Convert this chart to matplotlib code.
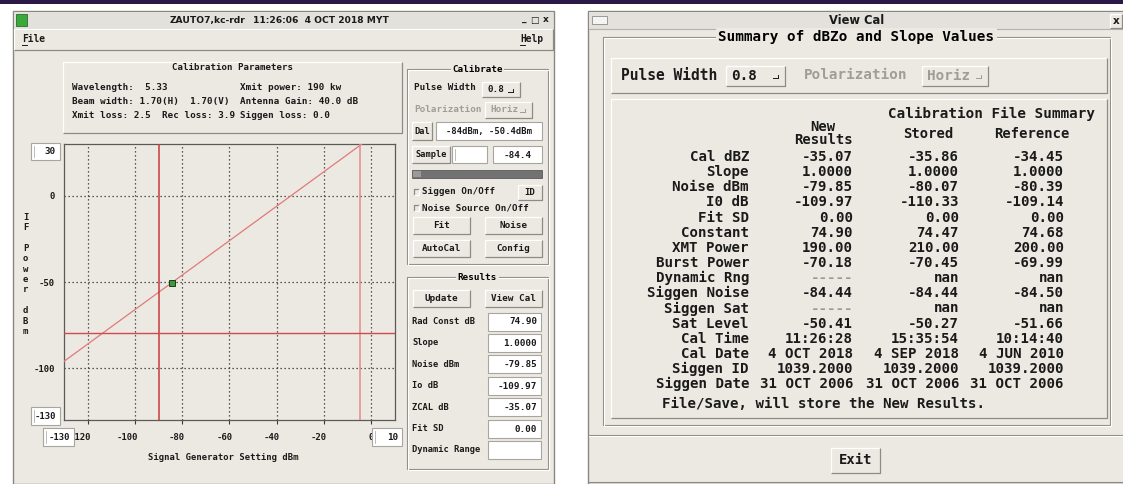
import matplotlib
matplotlib.use("Agg")
import matplotlib.pyplot as plt
import matplotlib.transforms as mtransforms
from matplotlib.patches import Rectangle

# calibration curve data
x_range = (-130, 10)
y_range = (-130, 30)
x_ticks = [-120, -100, -80, -60, -40, -20, 0]
y_ticks = [0, -50, -100]
sample_dbm = -84.4
sample_if = -50.4
fit_slope = 1.0
noise_dbm = -79.85
cal_limits = [-89.9, -4.6]

# calibration parameter block
param_left = ["Wavelength:  5.33", "Beam width: 1.70(H)  1.70(V)", "Xmit loss: 2.5  Rec loss: 3.9"]
param_right = ["Xmit power: 190 kw", "Antenna Gain: 40.0 dB", "Siggen loss: 0.0"]

# results panel
result_labels = ["Rad Const dB", "Slope", "Noise dBm", "Io dB", "ZCAL dB", "Fit SD", "Dynamic Range"]
result_values = ["74.90", "1.0000", "-79.85", "-109.97", "-35.07", "0.00", ""]

# summary table
row_labels = ["Cal dBZ", "Slope", "Noise dBm", "I0 dB", "Fit SD", "Constant", "XMT Power",
              "Burst Power", "Dynamic Rng", "Siggen Noise", "Siggen Sat", "Sat Level",
              "Cal Time", "Cal Date", "Siggen ID", "Siggen Date"]
new_results = ["-35.07", "1.0000", "-79.85", "-109.97", "0.00", "74.90", "190.00", "-70.18",
               "-----", "-84.44", "-----", "-50.41", "11:26:28", "4 OCT 2018", "1039.2000",
               "31 OCT 2006"]
stored = ["-35.86", "1.0000", "-80.07", "-110.33", "0.00", "74.47", "210.00", "-70.45",
          "nan", "-84.44", "nan", "-50.27", "15:35:54", "4 SEP 2018", "1039.2000",
          "31 OCT 2006"]
reference = ["-34.45", "1.0000", "-80.39", "-109.14", "0.00", "74.68", "200.00", "-69.99",
             "nan", "-84.50", "nan", "-51.66", "10:14:40", "4 JUN 2010", "1039.2000",
             "31 OCT 2006"]

BODY = "#ece9e2"
LIGHT = "#ffffff"
DARK = "#8e8b86"
GREY_TXT = "#a09d98"
MONO = "DejaVu Sans Mono"
SANS = "DejaVu Sans"
W, H = 1123, 484

fig = plt.figure(figsize=(W / 100, H / 100), dpi=100)
fig.patch.set_facecolor("white")

bg = fig.add_axes([0, 0, 1, 1], zorder=1)
bg.set_xlim(0, W)
bg.set_ylim(H, 0)
bg.axis("off")

fg = fig.add_axes([0, 0, 1, 1], zorder=3)
fg.set_xlim(0, W)
fg.set_ylim(H, 0)
fg.axis("off")
fg.patch.set_alpha(0)


def rect(ax, x, y, w, h, face, edge="none", lw=0.8):
    ax.add_patch(Rectangle((x, y), w, h, facecolor=face, edgecolor=edge, lw=lw))


def bevel(x, y, w, h, face=BODY, raised=True, ax=bg, lw=0.9):
    rect(ax, x, y, w, h, face)
    tl, br = (LIGHT, DARK) if raised else (DARK, LIGHT)
    ax.plot([x, x, x + w], [y + h, y, y], color=tl, lw=lw, solid_capstyle="butt")
    ax.plot([x, x + w, x + w], [y + h, y + h, y], color=br, lw=lw, solid_capstyle="butt")


def etched(x, y, w, h, title=None, size=6.7, ax=bg):
    for off, col in ((0, DARK), (1, LIGHT)):
        ax.add_patch(Rectangle((x + off, y + off), w, h, facecolor="none",
                               edgecolor=col, lw=0.8))
    if title:
        ax.text(x + w / 2, y, title, ha="center", va="center", fontsize=size,
                family=MONO, weight="bold",
                bbox=dict(boxstyle="square,pad=0.15", fc=BODY, ec="none"))


def label(x, y, s, size=6.7, ha="left", color="#1a1a1a", ax=bg, weight="bold", family=MONO):
    ax.text(x, y, s, ha=ha, va="center", fontsize=size, family=family,
            weight=weight, color=color)


def button(x, y, w, h, s, size=6.7, ax=bg):
    bevel(x, y, w, h, ax=ax)
    label(x + w / 2, y + h / 2, s, size=size, ha="center", ax=ax)


def entry(x, y, w, h, s="", size=6.7, ha="right", ax=bg, cursor=False):
    rect(ax, x, y, w, h, "white", edge="#a8a5a0", lw=0.8)
    if cursor:
        ax.plot([x + 3, x + 3], [y + 3, y + h - 3], color="#b0b0b0", lw=0.6)
    if s:
        tx = x + w - 4 if ha == "right" else x + w / 2
        label(tx, y + h / 2 + 0.5, s, size=size, ha=ha, ax=ax)


def option(x, y, w, h, s, size=6.7, color="#1a1a1a"):
    bevel(x, y, w, h)
    label(x + 5, y + h / 2, s, size=size, color=color)
    mx, my = x + w - 7, y + h / 2 + 2
    bg.plot([mx - 5, mx], [my, my], color=color, lw=0.7)
    bg.plot([mx, mx], [my - 3, my], color=color, lw=0.7)


def title_bar(x0, x1, y0, y1):
    rect(bg, x0, y0, x1 - x0, y1 - y0, "#e3e1dc")
    bg.plot([x0, x1], [y1, y1], color="#b5b2ad", lw=0.8)


# top strip and window bodies
rect(bg, 0, 0, W, 4, "#2b1846")
rect(bg, 13, 11, 541, H - 11, BODY, edge="#8a8782", lw=1.0)
rect(bg, 588, 11, W - 588 + 2, H - 11, BODY, edge="#8a8782", lw=1.0)

# main window chrome
title_bar(14, 553, 12, 29)
rect(bg, 16, 14, 11, 12, "#3aa83a", edge="#2d6b2d", lw=0.6)
label(170, 20.5, "ZAUTO7,kc-rdr", size=6.6, family=SANS)
label(253, 20.5, "11:26:06  4 OCT 2018 MYT", size=6.6, family=SANS)
for cx, s in ((524, "_"), (534, "□"), (546, "x")):
    label(cx, 20, s, size=6.5, ha="center", family=SANS)
bevel(14, 29, 539, 21)
label(22, 39.5, "File", size=6.9)
bg.plot([22, 27], [45, 45], color="#1a1a1a", lw=0.7)
label(520, 39.5, "Help", size=6.9)
bg.plot([520, 525], [45, 45], color="#1a1a1a", lw=0.7)

# calibration parameter panel
bevel(63, 62, 339, 71)
label(232, 67.5, "Calibration Parameters", size=6.6, ha="center")
for i, (lt, rt) in enumerate(zip(param_left, param_right)):
    label(72, 87 + i * 14.5, lt, size=6.7)
    label(240, 87 + i * 14.5, rt, size=6.7)

# calibrate panel
etched(407, 69, 141, 195, "Calibrate")
label(414, 88, "Pulse Width", size=6.7)
option(482, 82, 38, 15, "0.8")
label(414, 110, "Polarization", size=6.7, color=GREY_TXT)
option(485, 102, 47, 16, "Horiz", color=GREY_TXT)
button(412, 122, 20, 18, "Dal", size=6.2)
entry(436, 122, 106, 18, "-84dBm, -50.4dBm", size=6.4, ha="center")
button(412, 146, 38, 17, "Sample", size=6.2)
entry(452, 146, 35, 17, cursor=True)
entry(493, 146, 49, 17, "-84.4", size=6.7, ha="center")
rect(bg, 412, 170, 130, 8, "#727272", edge="#5a5a5a", lw=0.6)
rect(bg, 413, 171, 8, 6, "#9a9a9a")
for cy, s in ((192, "Siggen On/Off"), (208, "Noise Source On/Off")):
    bevel(414, cy - 3, 5, 6, raised=False)
    label(422, cy, s, size=6.7)
button(518, 185, 24, 15, "ID", size=6.5)
button(413, 217, 57, 17, "Fit")
button(485, 217, 57, 17, "Noise")
button(413, 240, 57, 17, "AutoCal")
button(485, 240, 57, 17, "Config")

# results panel
etched(407, 277, 141, 192, "Results")
button(413, 290, 57, 17, "Update")
button(485, 290, 57, 17, "View Cal")
for i, (lt, val) in enumerate(zip(result_labels, result_values)):
    cy = 321.5 + i * 21.4
    label(412, cy, lt, size=6.3)
    entry(488, cy - 9, 53, 18, val, size=6.7)

# calibration curve
ax = fig.add_axes([64 / W, (H - 420) / H, (395 - 64) / W, (420 - 144) / H], zorder=2)
ax.set_facecolor(BODY)
ax.set_xlim(*x_range)
ax.set_ylim(*y_range)
for s in ax.spines.values():
    s.set_color("#5a5a5a")
    s.set_linewidth(0.9)
for xv in x_ticks:
    ax.axvline(xv, color="#2a2a2a", lw=0.9, ls=(0, (1, 2.2)), zorder=1)
for yv in y_ticks:
    ax.axhline(yv, color="#2a2a2a", lw=0.9, ls=(0, (1, 2.2)), zorder=1)

fit_x = list(x_range)
fit_y = [sample_if + fit_slope * (xv - sample_dbm) for xv in fit_x]
ax.plot(fit_x, fit_y, color="#e07a7a", lw=0.9, zorder=3)
ax.axvline(cal_limits[0], color="#c83a3a", lw=1.1, zorder=3)
ax.axvline(cal_limits[1], color="#e48a8a", lw=1.1, zorder=3)
ax.axhline(noise_dbm, color="#d24a4a", lw=1.0, zorder=3)
ax.plot([sample_dbm], [sample_if], marker="s", ms=4.5, mfc="#3c9a3c", mec="#1c3c1c",
        mew=0.7, zorder=4)

ax.set_xticks(x_ticks)
ax.set_xticklabels([str(v) for v in x_ticks])
ax.set_yticks(y_ticks)
ax.set_yticklabels([str(v) for v in y_ticks])
ax.tick_params(axis="x", length=3, width=0.8, color="#3a3a3a", pad=6.5, labelsize=6.5)
ax.tick_params(axis="y", length=0, pad=6.5, labelsize=6.5)
shift = mtransforms.ScaledTranslation(3 / 100, 0, fig.dpi_scale_trans)
for t in ax.get_xticklabels():
    t.set_ha("right")
    t.set_transform(t.get_transform() + shift)
for t in ax.get_xticklabels() + ax.get_yticklabels():
    t.set_family(MONO)
    t.set_weight("bold")
    t.set_color("#1a1a1a")

# axis range entries and axis titles
entry(31, 143, 29, 17, "30", size=6.7, ax=fg, cursor=True)
entry(31, 407, 29, 18, "-130", size=6.5, ax=fg, cursor=True)
entry(43, 428, 31, 18, "-130", size=6.5, ax=fg, cursor=True)
entry(372, 428, 30, 18, "10", size=6.7, ax=fg, cursor=True)
for i, ch in enumerate("IF Power dBm"):
    if ch != " ":
        label(25.5, 217 + i * 10.4, ch, size=6.5, ha="center")
label(223, 458, "Signal Generator Setting dBm", size=6.4, ha="center")

# summary window chrome
title_bar(589, W, 12, 29)
rect(bg, 592, 16, 15, 8, "#f4f4f4", edge="#9a9893", lw=0.7)
label(857, 20.5, "View Cal", size=8.3, ha="center", family=SANS)
bevel(1110, 14, 12, 14)
label(1116, 21, "x", size=7.5, ha="center", family=SANS)

etched(603, 37, 507, 388, "Summary of dBZo and Slope Values", size=10.3)
bevel(611, 58, 496, 35)
label(621, 75, "Pulse Width", size=10.5)
option(726, 66, 59, 20, "0.8", size=10.3)
label(804, 75, "Polarization", size=10.3, color=GREY_TXT)
option(922, 66, 66, 20, "Horiz", size=10.3, color=GREY_TXT)

bevel(611, 99, 496, 319)
label(1095, 114, "Calibration File Summary", size=10.3, ha="right")
label(823, 127, "New", size=10.0, ha="center")
label(823, 140, "Results", size=10.0, ha="center")
label(928, 134, "Stored", size=10.0, ha="center")
label(1032, 134, "Reference", size=10.0, ha="center")

col_right = [853, 959, 1064]
for i, lab in enumerate(row_labels):
    cy = 157 + i * 15.15
    label(749, cy, lab, size=10.2, ha="right")
    for xr, col in zip(col_right, (new_results, stored, reference)):
        val = col[i]
        label(xr, cy, val, size=10.2, ha="right",
              color="#9a9893" if val == "-----" else "#1a1a1a")
label(662, 403.5, "File/Save, will store the New Results.", size=10.2)

bg.plot([589, W], [435, 435], color=DARK, lw=0.8)
bg.plot([589, W], [436, 436], color=LIGHT, lw=0.8)
button(831, 448, 49, 25, "Exit", size=10.0)
bg.plot([589, W], [482, 482], color=DARK, lw=0.8)

fig.savefig("out.png", dpi=100, facecolor=fig.get_facecolor())
